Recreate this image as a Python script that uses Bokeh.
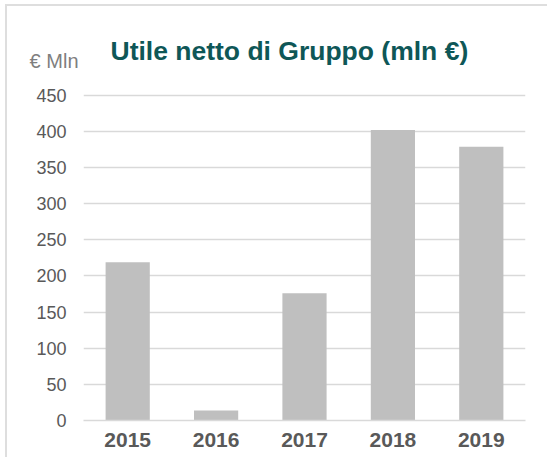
from bokeh.plotting import figure
from bokeh.models import Label, LinearAxis, FixedTicker, FactorRange, Range1d
from bokeh.embed import file_html
from bokeh.resources import INLINE

years = ["2015", "2016", "2017", "2018", "2019"]
values = [219, 14, 176, 402, 379]
y_ticks = [0, 50, 100, 150, 200, 250, 300, 350, 400, 450]
title_text = "Utile netto di Gruppo (mln €)"
unit_text = "€ Mln"
unit_pos = 497

p = figure(width=542, height=453, x_range=FactorRange(*years, range_padding=0),
           y_range=Range1d(0, 573), output_backend="svg", toolbar_location=None,
           min_border_left=76, min_border_right=24, min_border_top=0, min_border_bottom=39)
p.styles = {"margin-left": "5px", "margin-top": "4px",
            "border-left": "2px solid #DEDEDE", "border-top": "2px solid #DEDEDE"}
p.outline_line_color = None
p.background_fill_color = "white"
p.border_fill_color = "white"

p.vbar(x=years, top=values, width=0.5, color="#BFBFBF", line_color=None)

p.xgrid.grid_line_color = None
p.ygrid.grid_line_color = "#D9D9D9"
p.ygrid.grid_line_width = 1.5
p.ygrid.ticker = FixedTicker(ticks=y_ticks)

p.yaxis.ticker = FixedTicker(ticks=y_ticks)
p.yaxis.axis_line_color = None
p.yaxis.major_tick_line_color = None
p.yaxis.minor_tick_line_color = None
p.yaxis.major_tick_out = 0
p.yaxis.major_tick_in = 0
p.yaxis.major_label_text_font = "Liberation Sans"
p.yaxis.major_label_text_font_size = "18px"
p.yaxis.major_label_text_color = "#595959"
p.yaxis.major_label_standoff = 17

unit_axis = LinearAxis(ticker=FixedTicker(ticks=[unit_pos]),
                       major_label_overrides={unit_pos: unit_text},
                       axis_line_color=None, major_tick_line_color=None,
                       minor_tick_line_color=None, major_tick_out=0, major_tick_in=0,
                       major_label_text_font="Liberation Sans",
                       major_label_text_font_size="20px",
                       major_label_text_color="#7F7F7F",
                       major_label_standoff=-45)
p.add_layout(unit_axis, "left")

p.xaxis.axis_line_color = "#D9D9D9"
p.xaxis.axis_line_width = 1.5
p.xaxis.major_tick_line_color = None
p.xaxis.minor_tick_line_color = None
p.xaxis.major_tick_out = 0
p.xaxis.major_label_text_font = "Liberation Sans"
p.xaxis.major_label_text_font_size = "21px"
p.xaxis.major_label_text_font_style = "bold"
p.xaxis.major_label_text_color = "#595959"
p.xaxis.major_label_standoff = 12

p.add_layout(Label(x=101, y=42, x_units="canvas", y_units="canvas", text=title_text,
                   text_font="Liberation Sans", text_font_size="26.5px", text_font_style="bold",
                   text_color="#0E5757", text_baseline="alphabetic"))

open("out.html", "w").write(file_html(p, INLINE))
